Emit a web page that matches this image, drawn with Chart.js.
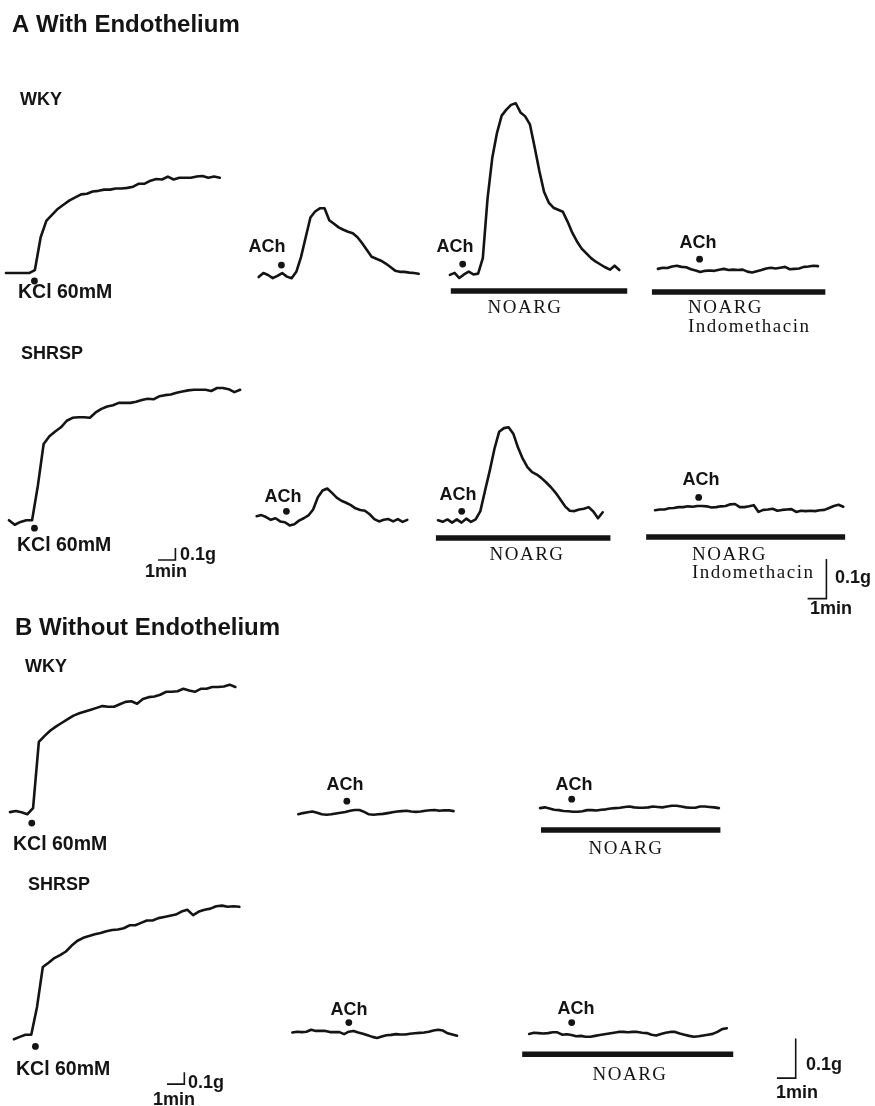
<!DOCTYPE html>
<html>
<head>
<meta charset="utf-8">
<title>ACh responses, WKY vs SHRSP</title>
<script src="https://cdn.jsdelivr.net/npm/chart.js@4.4.1/dist/chart.umd.min.js"></script>
<style>
  html, body { margin: 0; padding: 0; background: #fff; }
  #fig { display: block; width: 875px; height: 1106px; }
</style>
</head>
<body>
<canvas id="fig" width="875" height="1106"></canvas>
<script>
// Tension above resting level, in mg. KCl traces sampled every 1/3 min, ACh traces every 0.25 min.
// A: with endothelium
const wkyEndoKcl = [0, 0, 0, 0, 0, 25, 300, 440, 490, 540, 575, 610, 635, 660, 665, 685, 690, 700, 700, 710, 710, 715, 725, 750, 750, 775, 790, 785, 810, 785, 800, 800, 800, 810, 815, 800, 810, 800];
const wkyEndoAch = [0, 10, 5, -3, 3, 10, 1, -3, 13, 50, 100, 150, 165, 173, 173, 143, 134, 125, 119, 114, 110, 100, 85, 68, 51, 46, 41, 34, 25, 16, 13, 13, 11, 10, 8];
const wkyEndoNoarg = [-2, 3, -10, -1, 6, -1, 1, 40, 190, 292, 355, 399, 414, 426, 430, 407, 397, 377, 320, 260, 207, 180, 167, 162, 157, 132, 104, 82, 64, 52, 40, 31, 24, 17, 11, 21, 10];
const wkyEndoIndo = [-2, 1, 0, 4, 6, 3, 2, -3, -6, -10, -7, -6, -7, -4, -2, -5, -4, -5, -4, -9, -11, -8, -5, -1, 1, -1, 1, 3, -3, -2, -1, 3, 4, 6, 5];
const shrEndoKcl = [0, -38, -14, 0, 0, 290, 640, 705, 745, 780, 835, 860, 865, 865, 860, 905, 935, 955, 965, 985, 985, 985, 995, 1010, 1020, 1015, 1040, 1050, 1055, 1070, 1080, 1090, 1095, 1095, 1095, 1085, 1110, 1110, 1100, 1075, 1095];
const shrEndoAch = [5, 8, 3, -4, 0, -8, -10, -18, -15, -6, 0, 7, 22, 53, 70, 75, 64, 52, 44, 39, 33, 25, 21, 19, 10, -2, -8, -4, -2, -8, -2, -9, -4];
const shrEndoNoarg = [0, -4, 2, -6, 2, -6, 4, -4, 2, 23, 75, 125, 180, 223, 232, 234, 218, 183, 155, 134, 121, 115, 106, 95, 83, 69, 52, 35, 24, 23, 27, 29, 33, 22, 5, 20];
const shrEndoIndo = [-5, -3, -3, 0, 1, 3, 3, 5, 4, 6, 6, 5, 2, 3, 5, 6, 10, 11, 3, 3, 5, 8, -9, -4, -3, -1, -6, -4, -3, -2, -9, -6, -7, -6, -7, -5, -4, 1, 6, 9, 4];
// B: without endothelium
const wkyDenKcl = [0, 9, -2, -18, 33, 590, 640, 685, 720, 750, 780, 810, 830, 845, 860, 875, 890, 885, 885, 905, 925, 930, 910, 950, 965, 970, 985, 1010, 1010, 1015, 1035, 1020, 1010, 1035, 1035, 1050, 1050, 1055, 1070, 1050];
const wkyDenAch = [-3, 0, 2, 4, 1, -3, -4, -3, -1, 1, 3, 6, 8, 8, 3, -3, -4, -3, -2, 0, 2, 4, 5, 6, 4, 3, 4, 6, 7, 8, 6, 7, 7, 5];
const wkyDenNoarg = [0, 2, -1, -4, -5, -7, -8, -9, -9, -8, -5, -5, -6, -4, -3, -1, 0, 1, 3, 4, 2, 1, 1, 2, 4, 3, 2, 4, 6, 6, 4, 2, 1, 1, 4, 4, 3, 2, 0];
const shrDenKcl = [-31, -12, 6, 6, 240, 575, 610, 650, 675, 705, 755, 795, 820, 835, 850, 860, 875, 885, 890, 900, 925, 925, 945, 965, 965, 985, 995, 1005, 1015, 1040, 1055, 1010, 1040, 1055, 1065, 1085, 1090, 1080, 1085, 1080];
const shrDenAch = [0, 2, 1, 2, 7, 4, 4, 4, 1, 1, 1, -4, 2, 4, 0, -3, -7, -11, -14, -10, -7, -6, -4, -5, -5, -3, -2, -1, 0, 2, 5, 7, 5, -2, -5, -8];
const shrDenNoarg = [-1, 2, 1, 0, 1, 3, 3, -3, -2, -4, -7, -6, -8, -8, -6, -4, -2, 0, 2, 4, 4, 3, 4, 4, 2, 1, -3, -5, -1, 2, 4, 4, 0, -3, -6, -8, -7, -5, -3, -1, 4, 11, 13];

// time of KCl / ACh addition (min from start of each trace), in panel order
const stimulusMin = [1.64, 1.21, 0.68, 2.21, 1.47, 1.58, 1.26, 2.32, 1.26, 2.58, 1.68, 1.24, 3.0, 2.26];
// NOARG (+ indomethacin) exposure, min from start of trace
const noargSpanMin = { 2: [0.05, 9.42], 3: [-0.32, 8.89], 6: [-0.11, 9.16], 7: [-0.47, 10.1], 10: [0.05, 9.58], 13: [-0.37, 10.84] };

const scaleBarMin = 1;
const scaleBarMg = 100;

// ---- layout ----
const ink = '#141414';
const sans = '"Liberation Sans", Arial, Helvetica, sans-serif';
const serif = '"Liberation Serif", "Times New Roman", serif';

const unitScale = {
    kcl: { pxPerMin: 17.5, pxPerMg: 0.12, step: 1 / 3 },
    ach: { pxPerMin: 19, pxPerMg: 0.4, step: 0.25 }
};

// x0,y0 = start of trace at resting tension; dotDy/barDy = offset from resting level
const panels = [
    { trace: wkyEndoKcl, unit: 'kcl', x0: 2, y0: 271, dotDy: 8 },
    { trace: wkyEndoAch, unit: 'ach', x0: 257, y0: 275, dotDy: -12 },
    { trace: wkyEndoNoarg, unit: 'ach', x0: 450, y0: 272, dotDy: -10, barDy: 17 },
    { trace: wkyEndoIndo, unit: 'ach', x0: 660, y0: 266, dotDy: -9, barDy: 24 },
    { trace: shrEndoKcl, unit: 'kcl', x0: 5, y0: 520, dotDy: 8 },
    { trace: shrEndoAch, unit: 'ach', x0: 255, y0: 518, dotDy: -7 },
    { trace: shrEndoNoarg, unit: 'ach', x0: 438, y0: 520, dotDy: -9, barDy: 18 },
    { trace: shrEndoIndo, unit: 'ach', x0: 657, y0: 508, dotDy: -11, barDy: 29 },
    { trace: wkyDenKcl, unit: 'kcl', x0: 6, y0: 814, dotDy: 11 },
    { trace: wkyDenAch, unit: 'ach', x0: 297, y0: 815, dotDy: -12 },
    { trace: wkyDenNoarg, unit: 'ach', x0: 541, y0: 810, dotDy: -9, barDy: 22 },
    { trace: shrDenKcl, unit: 'kcl', x0: 10, y0: 1039, dotDy: 11 },
    { trace: shrDenAch, unit: 'ach', x0: 291, y0: 1036, dotDy: -10 },
    { trace: shrDenNoarg, unit: 'ach', x0: 530, y0: 1037, dotDy: -11, barDy: 21 }
];

// corner of each L-shaped calibration bar
const scaleBars = [
    { unit: 'kcl', x: 173, y: 560 },
    { unit: 'ach', x: 830, y: 599 },
    { unit: 'kcl', x: 182, y: 1088 },
    { unit: 'ach', x: 799, y: 1082 }
];

const labels = [
    ['A With Endothelium', 12, 25, 'bold 24px ' + sans, 'left'],
    ['WKY', 20, 100, 'bold 18px ' + sans, 'left'],
    ['KCl 60mM', 18, 293, 'bold 19.5px ' + sans, 'left'],
    ['ACh', 267, 247, 'bold 18px ' + sans, 'center'],
    ['ACh', 455, 247, 'bold 18px ' + sans, 'center'],
    ['ACh', 698, 243, 'bold 18px ' + sans, 'center'],
    ['NOARG', 525, 308, '19px ' + serif, 'center', 1.5],
    ['NOARG', 688, 308, '19px ' + serif, 'left', 1.5],
    ['Indomethacin', 688, 327, '19px ' + serif, 'left', 1.5],
    ['SHRSP', 21, 354, 'bold 18px ' + sans, 'left'],
    ['KCl 60mM', 17, 546, 'bold 19.5px ' + sans, 'left'],
    ['0.1g', 180, 555, 'bold 18px ' + sans, 'left'],
    ['1min', 145, 572, 'bold 18px ' + sans, 'left'],
    ['ACh', 283, 497, 'bold 18px ' + sans, 'center'],
    ['ACh', 458, 495, 'bold 18px ' + sans, 'center'],
    ['ACh', 701, 480, 'bold 18px ' + sans, 'center'],
    ['NOARG', 527, 555, '19px ' + serif, 'center', 1.5],
    ['NOARG', 692, 555, '19px ' + serif, 'left', 1.5],
    ['Indomethacin', 692, 573, '19px ' + serif, 'left', 1.5],
    ['0.1g', 835, 578, 'bold 18px ' + sans, 'left'],
    ['1min', 810, 609, 'bold 18px ' + sans, 'left'],
    ['B Without Endothelium', 15, 628, 'bold 24px ' + sans, 'left'],
    ['WKY', 25, 667, 'bold 18px ' + sans, 'left'],
    ['KCl 60mM', 13, 845, 'bold 19.5px ' + sans, 'left'],
    ['ACh', 345, 785, 'bold 18px ' + sans, 'center'],
    ['ACh', 574, 785, 'bold 18px ' + sans, 'center'],
    ['NOARG', 626, 849, '19px ' + serif, 'center', 1.5],
    ['SHRSP', 28, 885, 'bold 18px ' + sans, 'left'],
    ['KCl 60mM', 16, 1070, 'bold 19.5px ' + sans, 'left'],
    ['0.1g', 188, 1083, 'bold 18px ' + sans, 'left'],
    ['1min', 153, 1100, 'bold 18px ' + sans, 'left'],
    ['ACh', 349, 1010, 'bold 18px ' + sans, 'center'],
    ['ACh', 576, 1009, 'bold 18px ' + sans, 'center'],
    ['NOARG', 630, 1075, '19px ' + serif, 'center', 1.5],
    ['0.1g', 806, 1065, 'bold 18px ' + sans, 'left'],
    ['1min', 776, 1093, 'bold 18px ' + sans, 'left']
];

// ---- datasets ----
const datasets = [];

panels.forEach((p, i) => {
    const u = unitScale[p.unit];
    const tx = min => p.x0 + min * u.pxPerMin;

    datasets.push({
        data: p.trace.map((mg, k) => ({ x: tx(k * u.step), y: p.y0 - mg * u.pxPerMg })),
        showLine: true,
        borderColor: ink,
        borderWidth: 2.6,
        borderJoinStyle: 'round',
        borderCapStyle: 'round',
        pointRadius: 0,
        tension: 0
    });

    // stimulus dot
    datasets.push({
        data: [{ x: tx(stimulusMin[i]), y: p.y0 + p.dotDy }],
        showLine: false,
        pointRadius: 3.4,
        pointBackgroundColor: ink,
        pointBorderWidth: 0
    });

    const span = noargSpanMin[i];
    if (span) {
        datasets.push({
            data: span.map(m => ({ x: tx(m), y: p.y0 + p.barDy })),
            showLine: true,
            borderColor: ink,
            borderWidth: 5.5,
            borderCapStyle: 'butt',
            pointRadius: 0
        });
    }
});

scaleBars.forEach(b => {
    const u = unitScale[b.unit];
    datasets.push({
        data: [
            { x: b.x - scaleBarMin * u.pxPerMin, y: b.y },
            { x: b.x, y: b.y },
            { x: b.x, y: b.y - scaleBarMg * u.pxPerMg }
        ],
        showLine: true,
        borderColor: ink,
        borderWidth: 1.6,
        pointRadius: 0
    });
});

const textPlugin = {
    id: 'figText',
    afterDatasetsDraw(chart) {
        const ctx = chart.ctx;
        ctx.save();
        ctx.fillStyle = ink;
        ctx.textBaseline = 'middle';
        labels.forEach(([text, x, y, font, align, spacing]) => {
            ctx.font = font;
            ctx.textAlign = align;
            ctx.letterSpacing = (spacing || 0) + 'px';
            ctx.fillText(text, x, y);
        });
        ctx.restore();
    }
};

new Chart(document.getElementById('fig'), {
    type: 'scatter',
    data: { datasets },
    options: {
        responsive: false,
        animation: false,
        devicePixelRatio: 1,
        layout: { padding: 0 },
        plugins: { legend: { display: false }, tooltip: { enabled: false } },
        scales: {
            x: { type: 'linear', min: 0, max: 875, display: false },
            y: { type: 'linear', min: 0, max: 1106, reverse: true, display: false }
        }
    },
    plugins: [textPlugin]
});
</script>
</body>
</html>
